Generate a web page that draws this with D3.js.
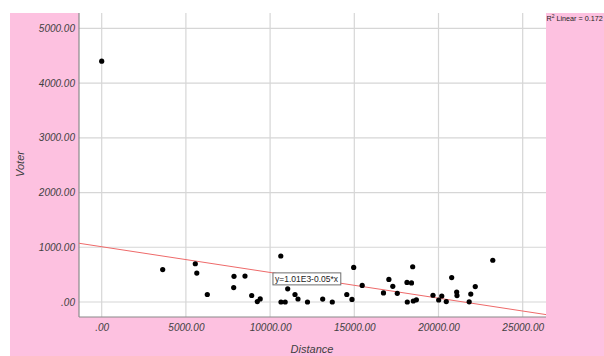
<!DOCTYPE html>
<html>
<head>
<meta charset="utf-8">
<script src="https://cdn.jsdelivr.net/npm/d3@7"></script>
<style>
  html, body { margin: 0; padding: 0; background: #ffffff; }
  svg { display: block; }
  text { font-family: "Liberation Sans", Arial, sans-serif; }
</style>
</head>
<body>
<svg id="chart" width="604" height="356"></svg>
<script>
// Distance vs. Voter observations
const distance = [0, 3622, 5558, 5647, 6271, 7856, 7838, 8509, 8907, 9240, 9412,
  10635, 10647, 10896, 11045, 11478, 11656, 12220, 13123, 13693, 14554, 14863,
  14964, 15469, 16733, 17054, 17286, 17553, 18147, 18129, 18396, 18467, 18503,
  18687, 19673, 20011, 20195, 20462, 20783, 21080, 21098, 21822, 21917, 22184, 23224];
const voter = [4400, 593, 699, 529, 137, 470, 263, 474, 119, 7, 57,
  840, 0, 0, 240, 137, 55, 0, 53, 0, 137, 48,
  631, 302, 166, 412, 287, 159, 0, 357, 348, 644, 18,
  40, 123, 37, 110, 7, 446, 183, 117, 4, 144, 282, 763];

const xTicks = [0, 5000, 10000, 15000, 20000, 25000];
const yTicks = [0, 1000, 2000, 3000, 4000, 5000];

// Linear fit
const intercept = 1010;
const slope = -0.047;
const fitLabel = "y=1.01E3-0.05*x";
const fitLabelAt = 10170;   // distance where the equation box is anchored
const r2Label = "0.172";

const svg = d3.select("#chart");
const W = 604, H = 356;
const plot = { left: 79, right: 546, top: 13, bottom: 317 };

const x = d3.scaleLinear().domain([-1348, 26384]).range([plot.left, plot.right]);
const y = d3.scaleLinear().domain([-274, 5280]).range([plot.bottom, plot.top]);

const fmt = v => d3.format(".2f")(v).replace(/^0\./, ".");

// Outer pink frame and white data region
svg.append("rect").attr("x", 10).attr("y", 13).attr("width", W - 10).attr("height", H - 13)
  .attr("fill", "#fdc1e0");
svg.append("rect").attr("x", plot.left).attr("y", plot.top)
  .attr("width", plot.right - plot.left).attr("height", plot.bottom - plot.top)
  .attr("fill", "#ffffff");

// Grid lines
const grid = svg.append("g");
grid.selectAll("line.gx").data(xTicks).join("line")
  .attr("x1", d => x(d)).attr("x2", d => x(d))
  .attr("y1", plot.top).attr("y2", plot.bottom)
  .attr("stroke", "#d6d6d6").attr("stroke-width", 1.2);
grid.selectAll("line.gy").data(yTicks).join("line")
  .attr("x1", plot.left).attr("x2", plot.right)
  .attr("y1", d => y(d)).attr("y2", d => y(d))
  .attr("stroke", "#d6d6d6").attr("stroke-width", 1.2);

// Axes
const xAxis = svg.append("g").attr("transform", `translate(0,${plot.bottom})`)
  .call(d3.axisBottom(x).tickValues(xTicks).tickFormat(fmt).tickSize(0).tickPadding(7));
const yAxis = svg.append("g").attr("transform", `translate(${plot.left},0)`)
  .call(d3.axisLeft(y).tickValues(yTicks).tickFormat(fmt).tickSize(0).tickPadding(4));
[xAxis, yAxis].forEach(g => {
  g.select(".domain").attr("stroke", "#8a8a8a").attr("stroke-width", 1.2);
  g.selectAll("text").attr("font-size", 10).attr("font-style", "italic")
    .attr("fill", "#404040").attr("font-family", "'Liberation Sans', Arial, sans-serif");
});
xAxis.select(".domain").attr("d", `M${plot.left},0H${plot.right}`);
yAxis.select(".domain").attr("d", `M0,${plot.top}V${plot.bottom}`);

// Axis titles
svg.append("text").attr("x", 312).attr("y", 353).attr("text-anchor", "middle")
  .attr("font-size", 11).attr("font-style", "italic").attr("fill", "#404040").text("Distance");
svg.append("text").attr("transform", "translate(24,164) rotate(-90)").attr("text-anchor", "middle")
  .attr("font-size", 11).attr("font-style", "italic").attr("fill", "#404040").text("Voter");

// Fit line, clipped to the data region
svg.append("clipPath").attr("id", "clip").append("rect")
  .attr("x", plot.left).attr("y", plot.top)
  .attr("width", plot.right - plot.left).attr("height", plot.bottom - plot.top);
const xd = x.domain();
svg.append("line").attr("clip-path", "url(#clip)")
  .attr("x1", x(xd[0])).attr("y1", y(intercept + slope * xd[0]))
  .attr("x2", x(xd[1])).attr("y2", y(intercept + slope * xd[1]))
  .attr("stroke", "#ee6a6a").attr("stroke-width", 1);

// Points
svg.append("g").selectAll("circle").data(distance.map((d, i) => [d, voter[i]])).join("circle")
  .attr("cx", d => x(d[0])).attr("cy", d => y(d[1])).attr("r", 2.6).attr("fill", "#000");

// Fit equation label: box hangs from the line with its top-left corner on it
const lx = x(fitLabelAt), ly = y(intercept + slope * fitLabelAt);
const lab = svg.append("g");
const lt = lab.append("text").attr("x", lx + 2).attr("y", ly + 9)
  .attr("font-size", 8.5).attr("fill", "#222").text(fitLabel);
const bb = lt.node().getBBox();
lab.insert("rect", "text").attr("x", lx).attr("y", ly)
  .attr("width", bb.width + 4).attr("height", 12)
  .attr("fill", "#fff").attr("stroke", "#6e6e6e").attr("stroke-width", 1);

// R² annotation
const r2 = svg.append("text").attr("x", 546.5).attr("y", 21).attr("font-size", 7.2).attr("fill", "#222");
r2.append("tspan").text("R");
r2.append("tspan").attr("font-size", 5).attr("dy", -3).text("2");
r2.append("tspan").attr("dy", 3).text(" Linear = " + r2Label);
</script>
</body>
</html>
